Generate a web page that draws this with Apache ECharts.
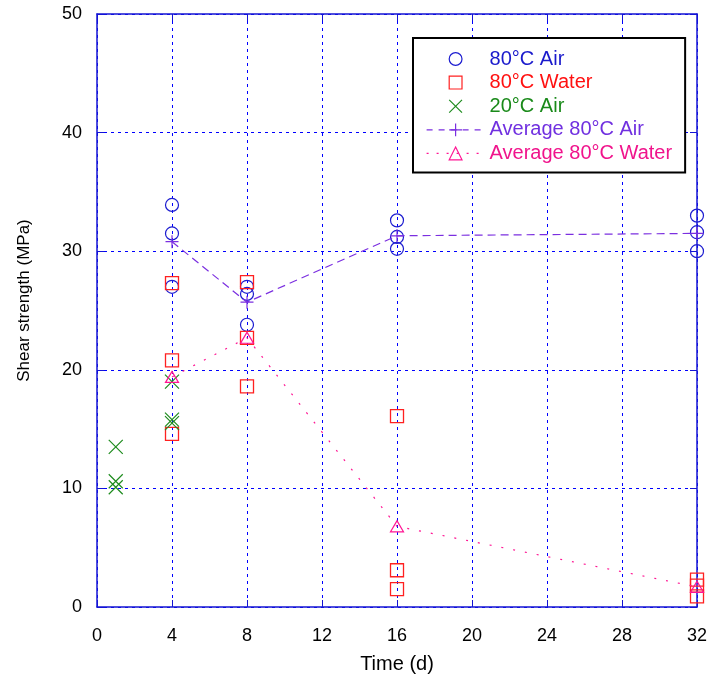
<!DOCTYPE html>
<html>
<head>
<meta charset="utf-8">
<script src="https://cdn.jsdelivr.net/npm/echarts@6/dist/echarts.min.js"></script>
<style>html,body{margin:0;padding:0;background:#fff}#c{width:715px;height:687px}</style>
</head>
<body>
<div id="c"></div>
<script>
const seriesNames = ['80°C Air', '80°C Water', '20°C Air', 'Average 80°C Air', 'Average 80°C Water'];
const air80Days = [4, 4, 4, 8, 8, 8, 16, 16, 16, 32, 32, 32];
const air80Shear = [33.9, 31.5, 27.0, 27.0, 26.4, 23.8, 32.6, 31.2, 30.2, 33.0, 31.6, 30.0];
const water80Days = [4, 4, 4, 8, 8, 8, 16, 16, 16, 32, 32, 32];
const water80Shear = [27.3, 20.8, 14.6, 27.4, 22.7, 18.6, 16.1, 3.1, 1.5, 2.3, 1.8, 0.9];
const air20Days = [1, 1, 1, 4, 4, 4];
const air20Shear = [13.5, 10.6, 10.1, 19.0, 15.8, 15.5];
const avgDays = [4, 8, 16, 32];
const avgAir80 = [30.8, 25.7, 31.3, 31.5];
const avgWater80 = [19.4, 22.7, 6.8, 1.7];

const pairs = (xs, ys) => xs.map((x, i) => [x, ys[i]]);
const FONT = "'Liberation Sans', Arial, sans-serif";
const C_BLUE = '#1c1cd0', C_RED = '#ff2020', C_GREEN = '#1e8c1e', C_PURPLE = '#7b2fe0', C_PINK = '#ff1493';
const AXIS_BLUE = '#1414d4';
const X_PATH = 'path://M0,0L10,10M10,0L0,10';
const PLUS_PATH = 'path://M5,0L5,10M0,5L10,5';
const clear = 'rgba(0,0,0,0)';

const chart = echarts.init(document.getElementById('c'), null, {renderer: 'canvas'});

function pointSeries(name, data, symbol, size, color, bw) {
  return {
    name, type: 'line', data, symbol, symbolSize: size, showSymbol: true, showAllSymbol: true,
    clip: false, z: 3,
    lineStyle: {opacity: 0, color},
    itemStyle: {color: clear, borderColor: color, borderWidth: bw},
    emphasis: {disabled: true}
  };
}
function avgSeries(name, data, symbol, size, color, dash) {
  return {
    name, type: 'line', data, symbol, symbolSize: size, showSymbol: true, showAllSymbol: true,
    clip: false, z: 4,
    lineStyle: {color, width: 1.2, type: dash},
    itemStyle: {color: clear, borderColor: color, borderWidth: 1.2},
    emphasis: {disabled: true}
  };
}

const legendItem = (name, color, symColor, lineOpacity, dash) => ({
  name,
  textStyle: {color},
  itemStyle: {color: clear, borderColor: symColor, borderWidth: 1.2, opacity: 1},
  lineStyle: {color: symColor, width: 1.2, type: dash || 'solid', opacity: lineOpacity}
});

const option = {
  animation: false,
  backgroundColor: '#fff',
  textStyle: {fontFamily: FONT},
  grid: {left: 97, right: 18, top: 14, bottom: 80, containLabel: false},
  legend: {
    orient: 'vertical', left: 413, top: 38,
    padding: [11, 13, 9, 13],
    borderColor: '#000', borderWidth: 2, backgroundColor: '#fff',
    itemWidth: 58, itemHeight: 16, itemGap: 3.6,
    selectedMode: false,
    textStyle: {fontSize: 20, fontFamily: FONT},
    data: [
      legendItem(seriesNames[0], '#1a1acc', C_BLUE, 0),
      legendItem(seriesNames[1], '#ff1010', C_RED, 0),
      legendItem(seriesNames[2], '#1a8a1a', C_GREEN, 0),
      legendItem(seriesNames[3], '#7030e0', C_PURPLE, 1, [6, 6]),
      legendItem(seriesNames[4], '#f0148c', C_PINK, 1, [2, 8])
    ]
  },
  xAxis: [{
    type: 'value', min: 0, max: 32, interval: 4, position: 'bottom',
    name: 'Time (d)', nameLocation: 'middle', nameGap: 47,
    nameTextStyle: {fontSize: 20, color: '#000', fontFamily: FONT},
    axisLine: {show: true, onZero: false, lineStyle: {color: AXIS_BLUE, width: 1.5}},
    axisTick: {show: true, inside: true, length: 7, lineStyle: {color: AXIS_BLUE, width: 1}},
    axisLabel: {fontSize: 18, color: '#000', margin: 20, fontFamily: FONT},
    splitLine: {show: true, lineStyle: {color: '#0000ff', width: 1, type: [3, 4]}}
  }, {
    type: 'value', min: 0, max: 32, interval: 4, position: 'top',
    axisLine: {show: true, onZero: false, lineStyle: {color: AXIS_BLUE, width: 1.5}},
    axisTick: {show: true, inside: true, length: 7, lineStyle: {color: AXIS_BLUE, width: 1}},
    axisLabel: {show: false}, splitLine: {show: false}
  }],
  yAxis: [{
    type: 'value', min: 0, max: 50, interval: 10, position: 'left',
    name: 'Shear strength (MPa)', nameLocation: 'middle', nameGap: 64, nameRotate: 90,
    nameTextStyle: {fontSize: 17, color: '#000', fontFamily: FONT, padding: [0, 0, 0, 20]},
    axisLine: {show: true, onZero: false, lineStyle: {color: AXIS_BLUE, width: 1.5}},
    axisTick: {show: true, inside: true, length: 7, lineStyle: {color: AXIS_BLUE, width: 1}},
    axisLabel: {fontSize: 18, color: '#000', margin: 15, fontFamily: FONT},
    splitLine: {show: true, lineStyle: {color: '#0000ff', width: 1, type: [3, 4]}}
  }, {
    type: 'value', min: 0, max: 50, interval: 10, position: 'right',
    axisLine: {show: true, onZero: false, lineStyle: {color: AXIS_BLUE, width: 1.5}},
    axisTick: {show: true, inside: true, length: 7, lineStyle: {color: AXIS_BLUE, width: 1}},
    axisLabel: {show: false}, splitLine: {show: false}
  }],
  series: [
    pointSeries(seriesNames[0], pairs(air80Days, air80Shear), 'circle', 13, C_BLUE, 1.2),
    pointSeries(seriesNames[1], pairs(water80Days, water80Shear), 'rect', 13, C_RED, 1.3),
    pointSeries(seriesNames[2], pairs(air20Days, air20Shear), X_PATH, 14, C_GREEN, 1.2),
    avgSeries(seriesNames[3], pairs(avgDays, avgAir80), PLUS_PATH, 13, C_PURPLE, [8, 5]),
    avgSeries(seriesNames[4], pairs(avgDays, avgWater80), 'triangle', [13, 11], C_PINK, [2, 10])
  ]
};
chart.setOption(option);
</script>
</body>
</html>
